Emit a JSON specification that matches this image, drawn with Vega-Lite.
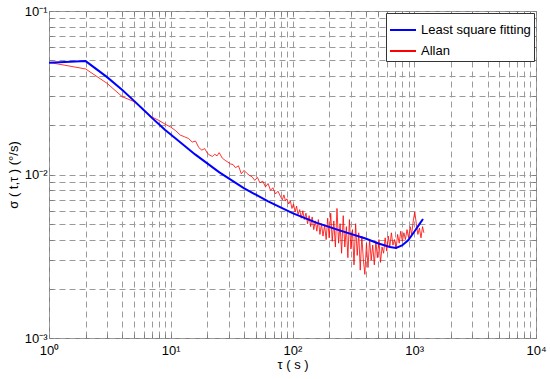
{
 "$schema": "https://vega.github.io/schema/vega-lite/v6.json",
 "width": 487, "height": 327,
 "autosize": {"type": "none"},
 "padding": {"left": 49, "top": 11, "right": 14, "bottom": 41},
 "background": "white",
 "config": {
  "view": {"stroke": "#7f7f7f", "strokeWidth": 1},
  "font": "Liberation Sans",
  "axis": {"labelFont": "Liberation Sans", "titleFont": "Liberation Sans", "labelColor": "#000", "titleColor": "#000", "titleFontWeight": "normal", "labelFontSize": 13, "titleFontSize": 13, "domain": false, "gridColor": "#9a9a9a", "gridDash": [6, 4], "gridOpacity": 1, "tickColor": "#7f7f7f", "tickSize": -4, "labelOverlap": false, "labelFlush": false},
  "legend": {"labelFont": "Liberation Sans", "labelFontSize": 13, "labelColor": "#000"}
 },
 "datasets": {
  "fit": [
   {"tau": 1, "sigma": 0.0483, "series": "Least square fitting"},
   {"tau": 2, "sigma": 0.0494, "series": "Least square fitting"},
   {"tau": 3, "sigma": 0.0394, "series": "Least square fitting"},
   {"tau": 4, "sigma": 0.0329, "series": "Least square fitting"},
   {"tau": 5, "sigma": 0.0282, "series": "Least square fitting"},
   {"tau": 6, "sigma": 0.0248, "series": "Least square fitting"},
   {"tau": 7, "sigma": 0.0222, "series": "Least square fitting"},
   {"tau": 8, "sigma": 0.0203, "series": "Least square fitting"},
   {"tau": 9, "sigma": 0.0187, "series": "Least square fitting"},
   {"tau": 10, "sigma": 0.01758, "series": "Least square fitting"},
   {"tau": 15.85, "sigma": 0.01327, "series": "Least square fitting"},
   {"tau": 25.1, "sigma": 0.0103, "series": "Least square fitting"},
   {"tau": 39.8, "sigma": 0.00826, "series": "Least square fitting"},
   {"tau": 63.1, "sigma": 0.00684, "series": "Least square fitting"},
   {"tau": 100, "sigma": 0.00581, "series": "Least square fitting"},
   {"tau": 158.5, "sigma": 0.00506, "series": "Least square fitting"},
   {"tau": 251, "sigma": 0.00452, "series": "Least square fitting"},
   {"tau": 398, "sigma": 0.00406, "series": "Least square fitting"},
   {"tau": 501, "sigma": 0.0038, "series": "Least square fitting"},
   {"tau": 631, "sigma": 0.0036, "series": "Least square fitting"},
   {"tau": 708, "sigma": 0.003556, "series": "Least square fitting"},
   {"tau": 794, "sigma": 0.003681, "series": "Least square fitting"},
   {"tau": 891, "sigma": 0.003963, "series": "Least square fitting"},
   {"tau": 1000, "sigma": 0.004467, "series": "Least square fitting"},
   {"tau": 1096, "sigma": 0.004932, "series": "Least square fitting"},
   {"tau": 1180, "sigma": 0.005346, "series": "Least square fitting"}
  ],
  "allan": [
   {"tau": 1, "sigma": 0.0485, "series": "Allan"},
   {"tau": 2, "sigma": 0.0442, "series": "Allan"},
   {"tau": 3, "sigma": 0.0361, "series": "Allan"},
   {"tau": 4, "sigma": 0.0299, "series": "Allan"},
   {"tau": 5, "sigma": 0.0279, "series": "Allan"},
   {"tau": 6, "sigma": 0.0248, "series": "Allan"},
   {"tau": 7, "sigma": 0.0225, "series": "Allan"},
   {"tau": 8, "sigma": 0.0214, "series": "Allan"},
   {"tau": 9, "sigma": 0.0203, "series": "Allan"},
   {"tau": 10, "sigma": 0.0195, "series": "Allan"},
   {"tau": 11, "sigma": 0.0185, "series": "Allan"},
   {"tau": 12, "sigma": 0.0174, "series": "Allan"},
   {"tau": 13, "sigma": 0.0170, "series": "Allan"},
   {"tau": 14, "sigma": 0.0166, "series": "Allan"},
   {"tau": 15, "sigma": 0.0158, "series": "Allan"},
   {"tau": 16, "sigma": 0.0160, "series": "Allan"},
   {"tau": 17, "sigma": 0.0146, "series": "Allan"},
   {"tau": 18, "sigma": 0.0141, "series": "Allan"},
   {"tau": 19, "sigma": 0.0144, "series": "Allan"},
   {"tau": 20, "sigma": 0.0135, "series": "Allan"},
   {"tau": 21, "sigma": 0.0131, "series": "Allan"},
   {"tau": 22, "sigma": 0.0129, "series": "Allan"},
   {"tau": 23, "sigma": 0.0133, "series": "Allan"},
   {"tau": 24, "sigma": 0.0130, "series": "Allan"},
   {"tau": 25, "sigma": 0.0136, "series": "Allan"},
   {"tau": 26.5, "sigma": 0.0126, "series": "Allan"},
   {"tau": 28, "sigma": 0.0122, "series": "Allan"},
   {"tau": 29.5, "sigma": 0.0119, "series": "Allan"},
   {"tau": 31, "sigma": 0.0116, "series": "Allan"},
   {"tau": 32.5, "sigma": 0.0115, "series": "Allan"},
   {"tau": 34, "sigma": 0.0110, "series": "Allan"},
   {"tau": 36, "sigma": 0.0113, "series": "Allan"},
   {"tau": 38, "sigma": 0.0101, "series": "Allan"},
   {"tau": 40, "sigma": 0.0106, "series": "Allan"},
   {"tau": 42, "sigma": 0.0102, "series": "Allan"},
   {"tau": 44, "sigma": 0.0099, "series": "Allan"},
   {"tau": 46.5, "sigma": 0.0097, "series": "Allan"},
   {"tau": 49, "sigma": 0.0092, "series": "Allan"},
   {"tau": 51.5, "sigma": 0.0096, "series": "Allan"},
   {"tau": 54, "sigma": 0.0089, "series": "Allan"},
   {"tau": 57, "sigma": 0.0091, "series": "Allan"},
   {"tau": 60, "sigma": 0.0084, "series": "Allan"},
   {"tau": 63, "sigma": 0.0088, "series": "Allan"},
   {"tau": 66, "sigma": 0.0080, "series": "Allan"},
   {"tau": 69, "sigma": 0.0083, "series": "Allan"},
   {"tau": 72.5, "sigma": 0.0076, "series": "Allan"},
   {"tau": 76, "sigma": 0.0079, "series": "Allan"},
   {"tau": 80, "sigma": 0.0073, "series": "Allan"},
   {"tau": 82.5, "sigma": 0.0070, "series": "Allan"},
   {"tau": 85, "sigma": 0.0075, "series": "Allan"},
   {"tau": 87.5, "sigma": 0.0069, "series": "Allan"},
   {"tau": 90, "sigma": 0.0071, "series": "Allan"},
   {"tau": 93, "sigma": 0.0066, "series": "Allan"},
   {"tau": 96, "sigma": 0.0069, "series": "Allan"},
   {"tau": 99, "sigma": 0.0062, "series": "Allan"},
   {"tau": 102, "sigma": 0.0066, "series": "Allan"},
   {"tau": 105, "sigma": 0.0059, "series": "Allan"},
   {"tau": 108, "sigma": 0.0064, "series": "Allan"},
   {"tau": 111, "sigma": 0.0057, "series": "Allan"},
   {"tau": 114.5, "sigma": 0.0061, "series": "Allan"},
   {"tau": 118, "sigma": 0.0054, "series": "Allan"},
   {"tau": 121.5, "sigma": 0.0060, "series": "Allan"},
   {"tau": 125, "sigma": 0.0053, "series": "Allan"},
   {"tau": 129, "sigma": 0.0058, "series": "Allan"},
   {"tau": 133, "sigma": 0.0050, "series": "Allan"},
   {"tau": 137, "sigma": 0.0056, "series": "Allan"},
   {"tau": 141, "sigma": 0.0048, "series": "Allan"},
   {"tau": 145, "sigma": 0.0055, "series": "Allan"},
   {"tau": 149.5, "sigma": 0.0046, "series": "Allan"},
   {"tau": 154, "sigma": 0.0052, "series": "Allan"},
   {"tau": 158.5, "sigma": 0.0045, "series": "Allan"},
   {"tau": 163, "sigma": 0.0053, "series": "Allan"},
   {"tau": 168, "sigma": 0.0043, "series": "Allan"},
   {"tau": 173, "sigma": 0.0050, "series": "Allan"},
   {"tau": 178, "sigma": 0.0042, "series": "Allan"},
   {"tau": 183.5, "sigma": 0.0049, "series": "Allan"},
   {"tau": 189, "sigma": 0.0040, "series": "Allan"},
   {"tau": 194.5, "sigma": 0.0054, "series": "Allan"},
   {"tau": 200, "sigma": 0.0041, "series": "Allan"},
   {"tau": 206, "sigma": 0.0058, "series": "Allan"},
   {"tau": 212, "sigma": 0.0039, "series": "Allan"},
   {"tau": 218.5, "sigma": 0.0052, "series": "Allan"},
   {"tau": 225, "sigma": 0.0036, "series": "Allan"},
   {"tau": 232, "sigma": 0.0062, "series": "Allan"},
   {"tau": 239, "sigma": 0.0038, "series": "Allan"},
   {"tau": 246, "sigma": 0.0050, "series": "Allan"},
   {"tau": 253, "sigma": 0.0033, "series": "Allan"},
   {"tau": 261, "sigma": 0.0056, "series": "Allan"},
   {"tau": 269, "sigma": 0.0036, "series": "Allan"},
   {"tau": 277, "sigma": 0.0048, "series": "Allan"},
   {"tau": 285, "sigma": 0.0031, "series": "Allan"},
   {"tau": 293.5, "sigma": 0.0053, "series": "Allan"},
   {"tau": 302, "sigma": 0.0035, "series": "Allan"},
   {"tau": 311, "sigma": 0.0046, "series": "Allan"},
   {"tau": 320, "sigma": 0.0028, "series": "Allan"},
   {"tau": 330, "sigma": 0.0050, "series": "Allan"},
   {"tau": 340, "sigma": 0.0032, "series": "Allan"},
   {"tau": 350, "sigma": 0.0044, "series": "Allan"},
   {"tau": 360, "sigma": 0.0026, "series": "Allan"},
   {"tau": 371, "sigma": 0.0042, "series": "Allan"},
   {"tau": 382, "sigma": 0.0030, "series": "Allan"},
   {"tau": 393, "sigma": 0.00245, "series": "Allan"},
   {"tau": 405, "sigma": 0.0038, "series": "Allan"},
   {"tau": 417, "sigma": 0.0027, "series": "Allan"},
   {"tau": 430, "sigma": 0.0040, "series": "Allan"},
   {"tau": 443, "sigma": 0.0030, "series": "Allan"},
   {"tau": 456, "sigma": 0.0037, "series": "Allan"},
   {"tau": 470, "sigma": 0.0028, "series": "Allan"},
   {"tau": 484, "sigma": 0.0039, "series": "Allan"},
   {"tau": 498, "sigma": 0.0031, "series": "Allan"},
   {"tau": 513, "sigma": 0.0040, "series": "Allan"},
   {"tau": 528, "sigma": 0.0029, "series": "Allan"},
   {"tau": 544, "sigma": 0.0036, "series": "Allan"},
   {"tau": 560, "sigma": 0.0033, "series": "Allan"},
   {"tau": 577, "sigma": 0.0041, "series": "Allan"},
   {"tau": 594, "sigma": 0.0034, "series": "Allan"},
   {"tau": 612, "sigma": 0.0042, "series": "Allan"},
   {"tau": 630, "sigma": 0.0036, "series": "Allan"},
   {"tau": 649, "sigma": 0.0044, "series": "Allan"},
   {"tau": 668, "sigma": 0.0037, "series": "Allan"},
   {"tau": 688, "sigma": 0.0040, "series": "Allan"},
   {"tau": 709, "sigma": 0.0035, "series": "Allan"},
   {"tau": 730, "sigma": 0.0043, "series": "Allan"},
   {"tau": 752, "sigma": 0.0038, "series": "Allan"},
   {"tau": 775, "sigma": 0.0045, "series": "Allan"},
   {"tau": 798, "sigma": 0.0039, "series": "Allan"},
   {"tau": 822, "sigma": 0.0044, "series": "Allan"},
   {"tau": 846, "sigma": 0.0040, "series": "Allan"},
   {"tau": 872, "sigma": 0.0046, "series": "Allan"},
   {"tau": 898, "sigma": 0.0041, "series": "Allan"},
   {"tau": 925, "sigma": 0.0048, "series": "Allan"},
   {"tau": 952, "sigma": 0.0043, "series": "Allan"},
   {"tau": 981, "sigma": 0.0052, "series": "Allan"},
   {"tau": 1010, "sigma": 0.0059, "series": "Allan"},
   {"tau": 1040, "sigma": 0.0050, "series": "Allan"},
   {"tau": 1071, "sigma": 0.0043, "series": "Allan"},
   {"tau": 1103, "sigma": 0.0047, "series": "Allan"},
   {"tau": 1136, "sigma": 0.0041, "series": "Allan"},
   {"tau": 1170, "sigma": 0.0048, "series": "Allan"},
   {"tau": 1200, "sigma": 0.0044, "series": "Allan"}
  ]
 },
 "resolve": {"axis": {"x": "independent", "y": "independent"}},
 "layer": [
  {
   "data": {"name": "allan"},
   "mark": {"type": "line", "strokeWidth": 0.8},
   "encoding": {
    "x": {"field": "tau", "type": "quantitative", "scale": {"type": "log", "domain": [1, 10000]},
     "axis": {"values": [1,2,3,4,5,6,7,8,9,10,20,30,40,50,60,70,80,90,100,200,300,400,500,600,700,800,900,1000,2000,3000,4000,5000,6000,7000,8000,9000,10000],
      "labelExpr": "datum.value == 1 ? '10⁰' : datum.value == 10 ? '10¹' : datum.value == 100 ? '10²' : datum.value == 1000 ? '10³' : datum.value == 10000 ? '10⁴' : ''",
      "title": "τ ( s )", "labelPadding": 10, "titlePadding": 1}},
    "y": {"field": "sigma", "type": "quantitative", "scale": {"type": "log", "domain": [0.001, 0.1]},
     "axis": {"values": [0.001,0.002,0.003,0.004,0.005,0.006,0.007,0.008,0.009,0.01,0.02,0.03,0.04,0.05,0.06,0.07,0.08,0.09,0.1],
      "labelExpr": "datum.value == 0.001 ? '10⁻³' : datum.value == 0.01 ? '10⁻²' : datum.value == 0.1 ? '10⁻¹' : ''",
      "title": "σ ( t,τ ) (°/s)", "labelPadding": 6, "titlePadding": 4}},
    "color": {"field": "series", "type": "nominal",
     "scale": {"domain": ["Least square fitting", "Allan"], "range": ["#0000ff", "#ff0000"]},
     "legend": {"title": null, "orient": "top-right", "offset": 2, "symbolType": "stroke", "symbolSize": 676, "symbolStrokeWidth": 2, "padding": 3, "rowPadding": -9, "strokeColor": "#333333", "fillColor": "white", "labelLimit": 300}}
   }
  },
  {
   "data": {"name": "fit"},
   "mark": {"type": "line", "strokeWidth": 2},
   "encoding": {
    "x": {"field": "tau", "type": "quantitative", "axis": {"orient": "top", "values": [1,2,3,4,5,6,7,8,9,10,20,30,40,50,60,70,80,90,100,200,300,400,500,600,700,800,900,1000,2000,3000,4000,5000,6000,7000,8000,9000,10000], "labels": false, "grid": false, "title": null}},
    "y": {"field": "sigma", "type": "quantitative", "axis": {"orient": "right", "values": [0.001,0.002,0.003,0.004,0.005,0.006,0.007,0.008,0.009,0.01,0.02,0.03,0.04,0.05,0.06,0.07,0.08,0.09,0.1], "labels": false, "grid": false, "title": null}},
    "color": {"field": "series", "type": "nominal"}
   }
  }
 ]
}
